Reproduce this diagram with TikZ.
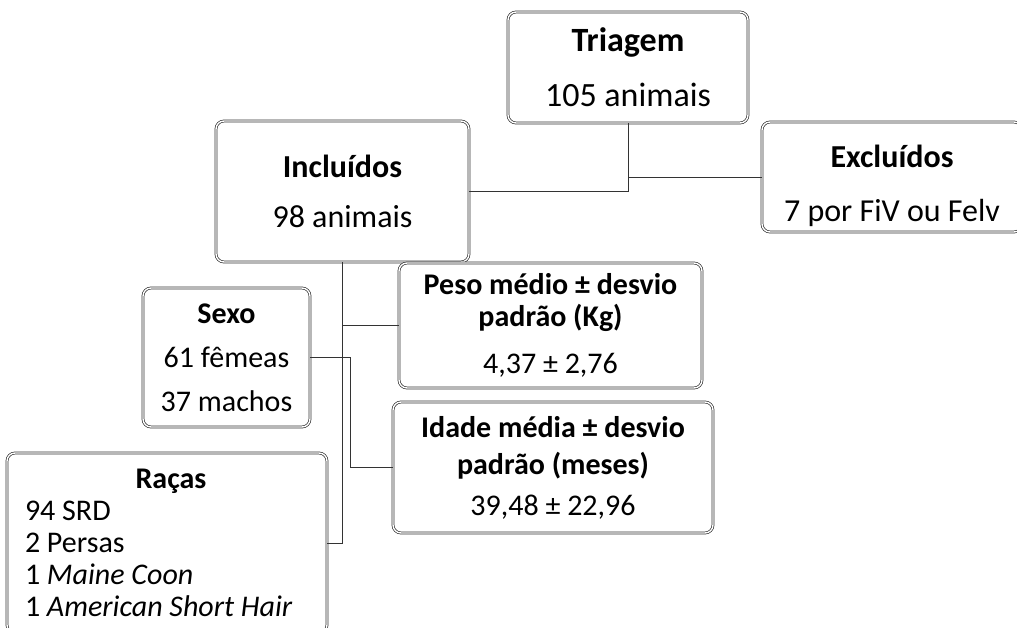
\documentclass[tikz,border=0pt]{standalone}
\usepackage{fontspec}
\setmainfont{Carlito}
\usetikzlibrary{positioning}

\tikzset{
  caixa/.style={draw=black!80, double=white, double distance=1.4pt, line width=0.7pt,
    rounded corners=8pt, inner sep=0pt, align=center},
  liga/.style={draw=black!80, line width=0.9pt}
}

\begin{document}
\begin{tikzpicture}[x=1pt,y=-1pt]
  \useasboundingbox (0,0) rectangle (1017,628);
  % caixas
  \node[caixa, minimum width=240, minimum height=111, font=\fontsize{34}{55}\selectfont]
    (tri) at (628,67.5) {\textbf{Triagem}\\105 animais};
  \node[caixa, minimum width=260, minimum height=110, font=\fontsize{32}{54}\selectfont]
    (exc) at (892,177) {\rule{0pt}{41pt}\textbf{Excluídos}\\7 por FiV ou Felv};
  \node[caixa, minimum width=253, minimum height=141, font=\fontsize{32}{50}\selectfont]
    (inc) at (342.5,191.5) {\textbf{Incluídos}\\98 animais};
  \node[caixa, minimum width=167, minimum height=139, font=\fontsize{30}{44}\selectfont]
    (sex) at (226.5,357.5) {\textbf{Sexo}\\61 fêmeas\\37 machos};
  \node[caixa, minimum width=303, minimum height=125, font=\fontsize{30}{32}\selectfont]
    (pes) at (550.5,325.5) {\textbf{Peso médio ± desvio}\\\textbf{padrão (Kg)}\\[15pt]4,37 ± 2,76};
  \node[caixa, minimum width=320, minimum height=131, font=\fontsize{30}{37}\selectfont]
    (ida) at (553,467.5) {\textbf{Idade média ± desvio}\\\textbf{padrão (meses)}\\[4pt]39,48 ± 22,96};
  \node[caixa, align=flush left, text width=284pt, inner xsep=18pt, minimum height=180,
    font=\fontsize{30}{32}\selectfont]
    (rac) at (167,543) {\makebox[\linewidth]{\hspace{8pt}\textbf{Raças}}\\94 SRD\\2 Persas\\1 \textit{Maine Coon}\\1 \textit{American Short Hair}};
  % ligacoes
  \draw[liga] (tri.south) |- (inc.east);
  \draw[liga] (tri.south |- exc.west) -- (exc.west);
  \draw[liga] (inc.south) |- (rac.east);
  \draw[liga] (inc.south |- pes.west) -- (pes.west);
  \coordinate (dobra) at ([xshift=40pt]sex.east);
  \draw[liga] (sex.east) -- (dobra) |- (ida.west);
\end{tikzpicture}
\end{document}
